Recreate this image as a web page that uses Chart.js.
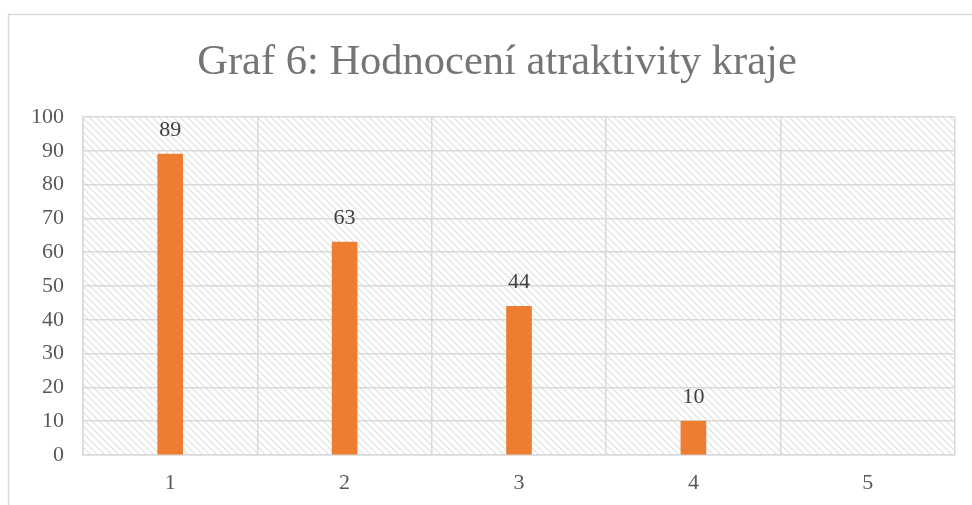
<!DOCTYPE html>
<html>
<head>
<meta charset="utf-8">
<script src="https://cdn.jsdelivr.net/npm/chart.js@4/dist/chart.umd.min.js"></script>
<style>
  html, body { margin: 0; padding: 0; background: #fff; }
  #wrap { width: 972px; height: 505px; position: relative; }
</style>
</head>
<body>
<div id="wrap"><canvas id="graf"></canvas></div>
<script>
var categories = ["1", "2", "3", "4", "5"];
var hodnoty = [89, 63, 44, 10, null];
var yTicks = [0, 10, 20, 30, 40, 50, 60, 70, 80, 90, 100];
var nadpis = "Graf 6: Hodnocení atraktivity kraje";

var barColor = "#ED7D31";
var gridColor = "#d9d9d9";

// hatch tile for the plot area
function makeHatch() {
    var n = 7;
    var c = document.createElement('canvas');
    c.width = n; c.height = n;
    var g = c.getContext('2d');
    g.strokeStyle = "#dedede";
    g.lineWidth = 1.1;
    g.beginPath();
    g.moveTo(-1, -1); g.lineTo(n + 1, n + 1);
    g.moveTo(-1, n - 1); g.lineTo(1, n + 1);
    g.moveTo(n - 1, -1); g.lineTo(n + 1, 1);
    g.stroke();
    return c;
}

var pozadi = {
    id: 'pozadi',
    beforeDraw: function(chart) {
        var ctx = chart.ctx, a = chart.chartArea;
        ctx.save();
        ctx.strokeStyle = gridColor;
        ctx.lineWidth = 1.5;
        ctx.strokeRect(8.5, 14.5, 1200, 1200);
        ctx.fillStyle = ctx.createPattern(makeHatch(), 'repeat');
        ctx.fillRect(a.left, a.top, a.right - a.left, a.bottom - a.top);
        // title, centred on the chart frame rather than the plot
        ctx.font = "42.5px 'Liberation Serif'";
        ctx.fillStyle = "#757575";
        ctx.textAlign = 'center';
        ctx.textBaseline = 'middle';
        ctx.fillText(nadpis, 497, 63);
        ctx.restore();
    }
};

var popisky = {
    id: 'popisky',
    afterDatasetsDraw: function(chart) {
        var ctx = chart.ctx;
        var meta = chart.getDatasetMeta(0);
        ctx.save();
        ctx.font = "22px 'Liberation Serif'";
        ctx.fillStyle = "#404040";
        ctx.textAlign = 'center';
        ctx.textBaseline = 'middle';
        meta.data.forEach(function(bar, i) {
            var v = hodnoty[i];
            if (v === null || v === undefined) return;
            ctx.fillText(String(v), bar.x, bar.y - 24);
        });
        ctx.restore();
    }
};

new Chart(document.getElementById('graf'), {
    type: 'bar',
    data: {
        labels: categories,
        datasets: [{
            data: hodnoty,
            backgroundColor: barColor,
            barThickness: 25
        }]
    },
    options: {
        responsive: true,
        maintainAspectRatio: false,
        animation: false,
        layout: { padding: { left: 0, right: 17, top: 117, bottom: 0 } },
        plugins: {
            legend: { display: false },
            tooltip: { enabled: false },
            title: { display: false }
        },
        scales: {
            x: {
                grid: { color: gridColor, lineWidth: 1.5, offset: true, drawTicks: false },
                border: { color: gridColor, width: 1.5 },
                ticks: {
                    color: "#595959",
                    padding: 15,
                    font: { family: "'Liberation Serif'", size: 22 }
                },
                afterFit: function(s) { s.height = 50; }
            },
            y: {
                min: 0,
                max: 100,
                afterBuildTicks: function(s) {
                    s.ticks = yTicks.map(function(v) { return { value: v }; });
                },
                grid: { color: gridColor, lineWidth: 1.5, drawTicks: false },
                border: { color: gridColor, width: 1.5 },
                ticks: {
                    color: "#595959",
                    padding: 19,
                    font: { family: "'Liberation Serif'", size: 22 }
                },
                afterFit: function(s) { s.width = 83; }
            }
        }
    },
    plugins: [pozadi, popisky]
});
</script>
</body>
</html>
